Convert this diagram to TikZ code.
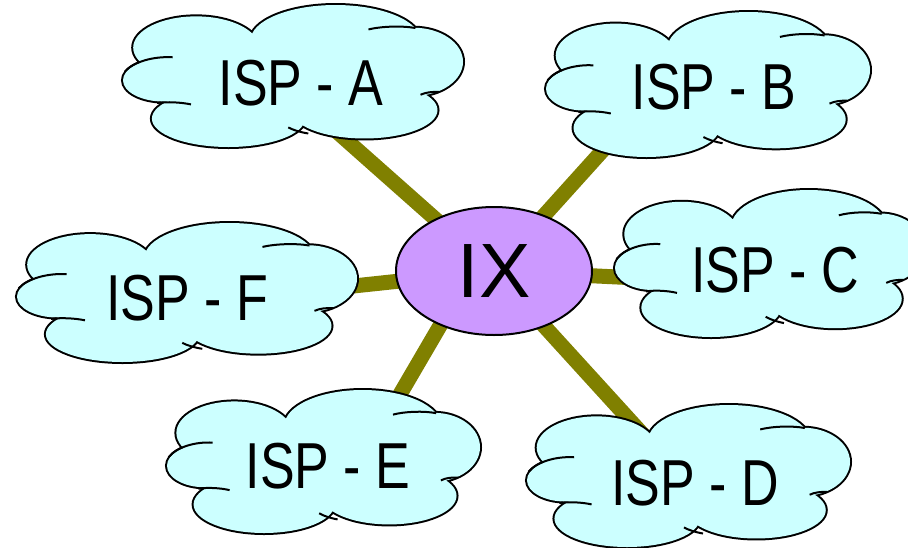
\documentclass[tikz,border=0pt]{standalone}
\usepackage{fontspec}
\setmainfont{Liberation Sans}
\newfontfamily\ispfont[FakeStretch=0.8]{Liberation Sans}
\usetikzlibrary{shapes.geometric,backgrounds}

\definecolor{cloudfill}{HTML}{CCFFFF}
\definecolor{ixfill}{HTML}{CC99FF}
\definecolor{linkcol}{HTML}{808000}

\tikzset{
  link/.style={draw=linkcol, line width=15pt},
  isplabel/.style={inner sep=0pt, font=\ispfont\fontsize{65}{70}\selectfont},
  ixnode/.style={ellipse, draw=black, line width=2pt, fill=ixfill,
    minimum width=196pt, minimum height=128pt, inner sep=0pt,
    font=\fontsize{77}{80}\selectfont},
}

% A cloud fitted into the box with top-left corner (#1,#2), width #3, height #4
\newcommand\ispcloud[4]{%
  \begin{scope}[shift={(#1,#2)}, x={(#3pt,0pt)}, y={(0pt,-#4pt)}]
    \def\lobes{%
      (.12,.53) ellipse [x radius=.12, y radius=.15]
      (.215,.30) ellipse [x radius=.185, y radius=.22]
      (.625,.25) ellipse [x radius=.25, y radius=.25]
      (.855,.40) ellipse [x radius=.145, y radius=.24]
      (.71,.74) ellipse [x radius=.215, y radius=.20]
      (.31,.80) ellipse [x radius=.225, y radius=.20]}
    \path[draw=black, line width=4pt] \lobes;
    \path[fill=cloudfill] \lobes (.5,.52) ellipse [x radius=.38, y radius=.32];
    \path[draw=black, line width=2pt]
      (.146,.368) .. controls (.09,.36) and (.03,.40) .. (.005,.47)
      (.722,.172) .. controls (.76,.15) and (.82,.145) .. (.86,.162)
      (.875,.632) .. controls (.89,.615) and (.91,.61) .. (.93,.612)
      (.486,.862) .. controls (.50,.88) and (.52,.895) .. (.545,.905)
      (.10,.69) .. controls (.13,.68) and (.17,.685) .. (.20,.70);
  \end{scope}}

\begin{document}
\begin{tikzpicture}[x=1pt, y=-1pt]
  \useasboundingbox (0,0) rectangle (908,547);

  % clouds
  \ispcloud{123}{5}{340}{142}
  \ispcloud{546}{12}{324}{145}
  \ispcloud{615}{190}{310}{147}
  \ispcloud{527}{405}{323}{142}
  \ispcloud{167}{390}{313}{143}
  \ispcloud{17}{223}{340}{139}

  % labels
  \node[isplabel] (A) at (301,83) {ISP - A};
  \node[isplabel] (B) at (714,87.5) {ISP - B};
  \node[isplabel] (C) at (775,270) {ISP - C};
  \node[isplabel] (D) at (695,483) {ISP - D};
  \node[isplabel] (E) at (328,466) {ISP - E};
  \node[isplabel] (F) at (187,298) {ISP - F};

  % exchange point
  \node[ixnode] (ix) at (494,271) {\raisebox{-5.5pt}{IX}};

  % link ends inside the clouds
  \coordinate (tA) at (300,99);
  \coordinate (tB) at (650,98);
  \coordinate (tC) at (700,281);
  \coordinate (tD) at (657,450);
  \coordinate (tE) at (385,420);
  \coordinate (tF) at (250,297);

  \begin{scope}[on background layer]
    \draw[link] (ix.center) -- (tA);
    \draw[link] (ix.center) -- (tB);
    \draw[link] (ix.center) -- (tC);
    \draw[link] (ix.center) -- (tD);
    \draw[link] ([xshift=-22pt]ix.center) -- (tE);
    \draw[link] (ix.center) -- (tF);
  \end{scope}
\end{tikzpicture}
\end{document}
